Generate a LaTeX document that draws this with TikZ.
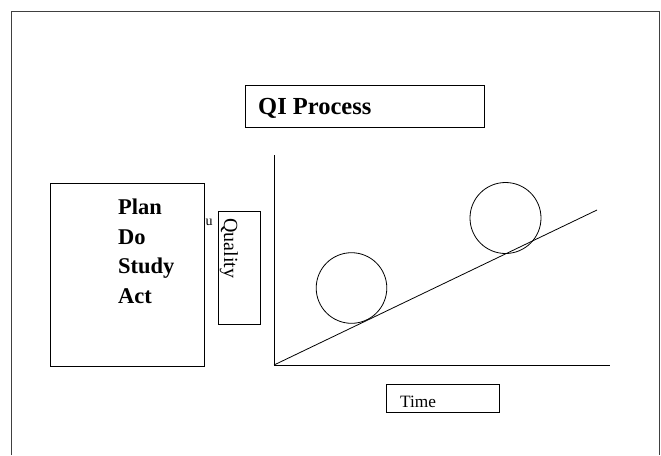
\documentclass[tikz,border=0pt]{standalone}
\usepackage{fontspec}
\setmainfont{Liberation Serif}
\begin{document}
\begin{tikzpicture}[x=1pt,y=-1pt,
  box/.style={draw=black, line width=0.8pt},
  frame/.style={draw=black!75, line width=0.9pt},
  axis/.style={draw=black, line width=0.8pt},
  bigbold/.style={font=\fontsize{24.5}{28}\selectfont\bfseries, inner sep=0pt},
  listbold/.style={font=\fontsize{22.5}{26}\selectfont\bfseries, inner sep=0pt, anchor=base west},
  plain/.style={font=\fontsize{17.3}{20}\selectfont, inner sep=0pt, anchor=base west}]
\useasboundingbox (0,0) rectangle (661,455);
% outer frame (left, top, right only)
\draw[frame] (11,455) -- (11,11) -- (659,11) -- (659,455);
% title box
\draw[box] (245,85) rectangle (484,127);
\node[bigbold, anchor=base west] (title) at (258,114) {QI Process};
% PDSA box
\draw[box] (50,183) rectangle (204,366);
\node[listbold] (plan) at (118,214) {Plan};
\node[listbold] (do) at (118,244) {Do};
\node[listbold] (study) at (118,273) {Study};
\node[listbold] (act) at (118,303) {Act};
% small glyph
\node[font=\fontsize{14}{16}\selectfont, inner sep=0pt] (u) at (209,222) {u};
% quality box
\draw[box] (218,211) rectangle (260,324);
\node[font=\fontsize{20}{23}\selectfont, inner sep=0pt, rotate=-90, anchor=base west] (quality) at (224,218) {Quality};
% axes
\coordinate (origin) at (274,365);
\coordinate (ytop) at (274,155);
\coordinate (xend) at (610,365);
\coordinate (lend) at (597,210);
\draw[axis] (ytop) -- (origin) -- (xend);
\draw[axis] (origin) -- (lend);
% circles
\draw[axis] (351.5,288) circle (35.3);
\draw[axis] (505.5,218) circle (35.5);
% time box
\draw[box] (386,384) rectangle (499,412);
\node[plain] (time) at (400,407) {Time};
\end{tikzpicture}
\end{document}
